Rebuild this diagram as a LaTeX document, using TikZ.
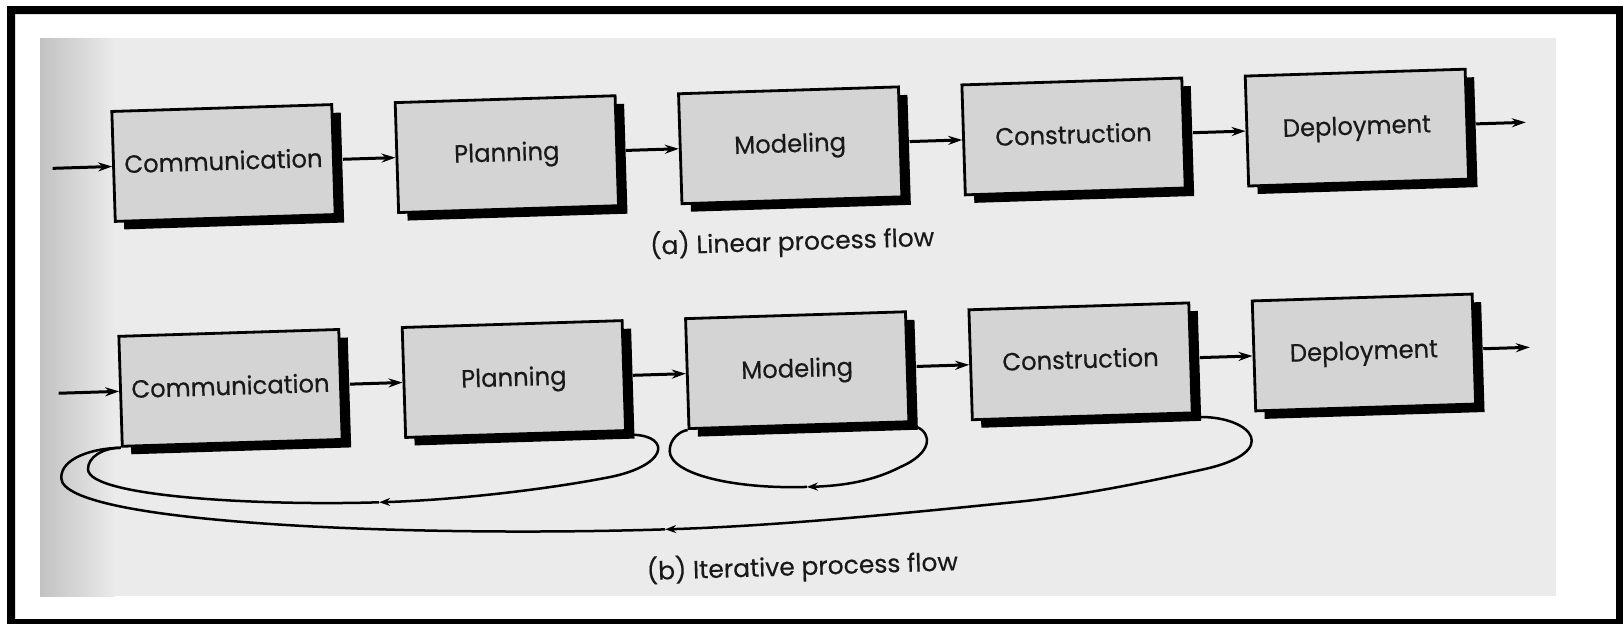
\documentclass[tikz,border=0pt]{standalone}
\usepackage{fontspec}
\usetikzlibrary{arrows.meta,shadows}
\newfontfamily\diagfont{Poppins}[FakeBold=0.4, FakeStretch=0.97]
\newfontfamily\capfont{Poppins}[FakeBold=0.4]
\definecolor{pagegray}{gray}{0.92}
\definecolor{boxgray}{gray}{0.83}
\definecolor{inkgray}{gray}{0.1}
\tikzset{
  stage/.style={draw=black, line width=2.8pt, fill=boxgray,
    minimum width=220pt, minimum height=110pt, inner sep=0pt,
    text=inkgray, font=\diagfont\fontsize{25}{29}\selectfont,
    text height=18pt, text depth=4pt,
    drop shadow={shadow xshift=9pt, shadow yshift=-8pt, fill=black, opacity=1}},
  flow/.style={line width=3pt, -{Stealth[length=14pt,width=9pt]}},
  loopline/.style={line width=2.5pt},
  looptip/.style={loopline, -{Stealth[length=11pt,width=8pt]}},
  caption/.style={text=inkgray, font=\capfont\fontsize{25}{29}\selectfont, anchor=base, inner sep=0pt}
}
\begin{document}
\begin{tikzpicture}[x=1pt,y=-1pt]
\useasboundingbox (0,0) rectangle (1623,624);
% paper and frame
\fill[white] (0,0) rectangle (1623,624);
\fill[pagegray] (40,38) rectangle (1556,596);
\shade[left color=black!24, right color=pagegray] (40,38) rectangle (115,596);
\fill[black, even odd rule] (7,6) rectangle (1630,630) (15,14) rectangle (1616,619);

\begin{scope}[shift={(223.5,163)}, rotate=1.79, transform shape]
  % (a) linear flow
  \node[stage] (a1) at (0,0)      {Communication};
  \node[stage] (a2) at (283.5,0)  {Planning};
  \node[stage] (a3) at (567,0)    {Modeling};
  \node[stage] (a4) at (850.5,0)  {Construction};
  \node[stage] (a5) at (1134,0)   {Deployment};
  \coordinate (ain)  at (-171,0);
  \coordinate (aout) at (1303,0);
  \draw[flow] (ain) -- (a1.west);
  \draw[flow] ([xshift=8pt]a1.east) -- (a2.west);
  \draw[flow] ([xshift=8pt]a2.east) -- (a3.west);
  \draw[flow] ([xshift=8pt]a3.east) -- (a4.west);
  \draw[flow] ([xshift=8pt]a4.east) -- (a5.west);
  \draw[flow] ([xshift=8pt]a5.east) -- (aout);
  \node[caption] (capa) at (566,105) {(a) Linear process flow};

  % (b) iterative flow
  \node[stage] (b1) at (0,225)      {Communication};
  \node[stage] (b2) at (283.5,225)  {Planning};
  \node[stage] (b3) at (567,225)    {Modeling};
  \node[stage] (b4) at (850.5,225)  {Construction};
  \node[stage] (b5) at (1134,225)   {Deployment};
  \coordinate (bin)  at (-172,225);
  \coordinate (bout) at (1300,225);
  \draw[flow] (bin) -- (b1.west);
  \draw[flow] ([xshift=8pt]b1.east) -- (b2.west);
  \draw[flow] ([xshift=8pt]b2.east) -- (b3.west);
  \draw[flow] ([xshift=8pt]b3.east) -- (b4.west);
  \draw[flow] ([xshift=8pt]b4.east) -- (b5.west);
  \draw[flow] ([xshift=8pt]b5.east) -- (bout);

  % feedback loop: Planning back to Communication
  \coordinate (m1) at (145,344);
  \draw[looptip] ([xshift=6pt,yshift=-3pt]b2.south east)
      .. controls (440,287) and (435,318) .. (370,327)
      .. controls (320,335) and (230,344) .. (m1);
  \draw[loopline] (m1) .. controls (30,344) and (-145,330) .. (-145,302)
      .. controls (-145,290) and (-130,281) .. (b1.south west);

  % feedback loop: Modeling onto itself
  \coordinate (m2) at (573,342);
  \draw[looptip] ([xshift=6pt,yshift=-4pt]b3.south east)
      .. controls (700,292) and (700,312) .. (667,325)
      .. controls (640,338) and (610,342) .. (m2);
  \draw[loopline] (m2) .. controls (500,342) and (437,325) .. (437,302)
      .. controls (437,290) and (448,282) .. (b3.south west);

  % feedback loop: Construction back to Communication
  \coordinate (m3) at (430,380);
  \draw[looptip] ([xshift=7pt,yshift=-3pt]b4.south east)
      .. controls (1020,286) and (1050,322) .. (969,337)
      .. controls (900,350) and (840,360) .. (775,364)
      .. controls (660,372) and (540,380) .. (m3);
  \draw[loopline] (m3) .. controls (170,380) and (-172,355) .. (-172,310)
      .. controls (-172,290) and (-140,281) .. (b1.south west);

  \node[caption] (capb) at (566,430) {(b) Iterative process flow};
\end{scope}
\end{tikzpicture}
\end{document}
